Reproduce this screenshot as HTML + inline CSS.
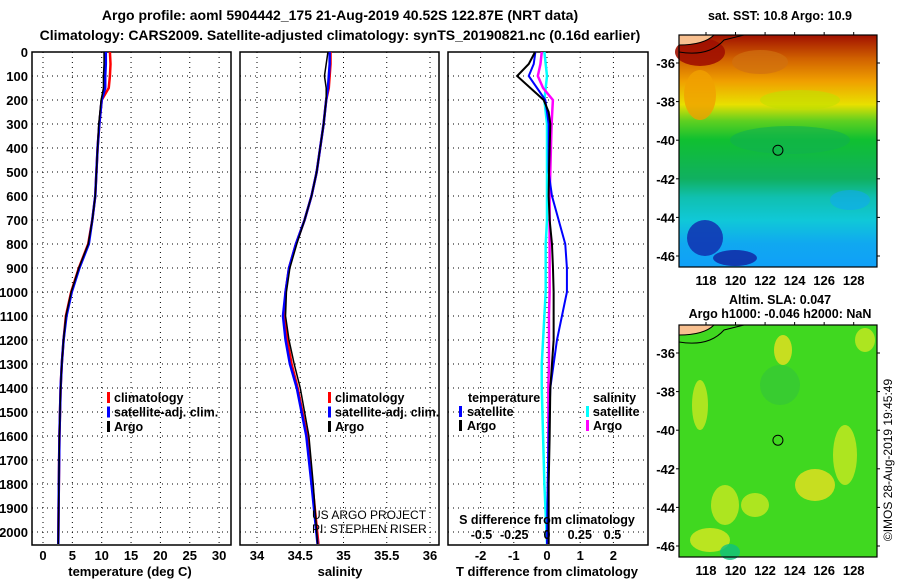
<!DOCTYPE html>
<html><head><meta charset="utf-8"><style>
body{margin:0;background:#fff}
svg{display:block;font-family:"Liberation Sans",sans-serif;font-weight:bold}
</style></head><body>
<svg id="c" width="900" height="580" viewBox="0 0 900 580">
<defs>
<linearGradient id="sst" x1="0" y1="0" x2="0" y2="1">
<stop offset="0" stop-color="#a01000"/><stop offset="0.1" stop-color="#d06000"/>
<stop offset="0.2" stop-color="#f0a000"/><stop offset="0.3" stop-color="#e8e000"/>
<stop offset="0.37" stop-color="#60d020"/><stop offset="0.45" stop-color="#10c030"/>
<stop offset="0.62" stop-color="#10b060"/><stop offset="0.7" stop-color="#10c0b0"/>
<stop offset="0.8" stop-color="#10c8d8"/><stop offset="0.9" stop-color="#10a8f0"/>
<stop offset="1" stop-color="#10a0f8"/>
</linearGradient>
</defs>
<text x="340" y="20" font-size="14" text-anchor="middle">Argo profile: aoml 5904442_175 21-Aug-2019 40.52S 122.87E (NRT data)</text>
<text x="340" y="40" font-size="14" text-anchor="middle">Climatology: CARS2009. Satellite-adjusted climatology: synTS_20190821.nc (0.16d earlier)</text>
<g id="g"></g>
</svg>
<script>
// ---- data ----
const depthT = [0,50,100,150,200,300,400,500,600,700,800,900,1000,1100,1200,1300,1400,1600,1800,2050];
const tempClim = [11.4,11.5,11.4,11.2,10.0,9.6,9.3,9.1,8.9,8.4,7.7,6.1,4.8,3.9,3.5,3.2,3.0,2.8,2.7,2.6];
const tempSat  = [10.7,10.7,10.6,10.6,10.0,9.6,9.3,9.1,8.9,8.4,7.8,6.2,4.9,4.0,3.5,3.2,3.0,2.8,2.7,2.6];
const tempArgo = [10.4,10.4,10.3,10.3,9.9,9.5,9.3,9.1,8.9,8.4,7.7,6.1,4.8,3.9,3.5,3.2,3.0,2.8,2.7,2.6];
const salClim = [34.85,34.85,34.84,34.83,34.8,34.77,34.73,34.69,34.63,34.55,34.45,34.37,34.33,34.32,34.35,34.4,34.47,34.58,34.64,34.71];
const salSat  = [34.84,34.84,34.83,34.82,34.8,34.77,34.73,34.69,34.63,34.55,34.45,34.37,34.33,34.3,34.33,34.38,34.46,34.57,34.63,34.7];
const salArgo = [34.82,34.8,34.78,34.8,34.8,34.77,34.73,34.69,34.63,34.55,34.46,34.38,34.34,34.33,34.37,34.43,34.5,34.6,34.65,34.7];
const depthD = [0,50,100,150,200,250,300,400,500,600,700,800,900,1000,1100,1200,1300,1400,1600,1800,2050];
const tDiffArgo = [-0.36,-0.55,-0.9,-0.5,-0.1,0.05,0.1,0.08,0.06,0.05,0.08,0.15,0.18,0.2,0.2,0.2,0.15,0.1,0.08,0.05,0.05];
const tDiffSat  = [-0.35,-0.4,-0.55,-0.3,-0.05,0.0,0.05,0.05,0.05,0.15,0.35,0.55,0.6,0.6,0.45,0.3,0.2,0.1,0.05,0.02,0.0];
const sDiffArgo = [-0.04,-0.05,-0.07,-0.03,0.045,0.04,0.035,0.03,0.025,0.02,0.02,0.02,0.02,0.02,0.015,0.015,0.015,0.01,0.01,0.01,0.01];
const sDiffSat  = [-0.02,-0.01,0.0,-0.01,-0.02,-0.01,0.0,0.0,0.0,0.0,0.0,-0.01,-0.01,-0.01,-0.02,-0.03,-0.04,-0.04,-0.03,-0.02,0.0];
const depthTicks = [0,100,200,300,400,500,600,700,800,900,1000,1100,1200,1300,1400,1500,1600,1700,1800,1900,2000];
const tempTicks = [0,5,10,15,20,25,30];
const salTicks = [34,34.5,35,35.5,36];
const tDiffTicks = [-2,-1,0,1,2];
const sDiffTicks = [-0.5,-0.25,0,0.25,0.5];
const lonTicks = [118,120,122,124,126,128];
const latTicks = [-36,-38,-40,-42,-44,-46];
const argoLon = 122.87, argoLat = -40.52;

const NS='http://www.w3.org/2000/svg';
const G=document.getElementById('g');
function mk(tag,at,parent){const e=document.createElementNS(NS,tag);for(const k in at)e.setAttribute(k,at[k]);(parent||G).appendChild(e);return e;}
function txt(x,y,s,size,anchor,parent){const t=mk('text',{x:x,y:y,'font-size':size,'text-anchor':anchor||'middle'},parent);t.textContent=s;return t;}

const PT=52,PB=545;
const yD=d=>PT+d*0.24;
function panel(name,x0,x1,xs,ticks,gridTicks){
  const g=mk('g',{});
  
  
  depthTicks.forEach(d=>{mk('line',{x1:x0,x2:x1,y1:yD(d),y2:yD(d),stroke:'#000','stroke-dasharray':'1 4','stroke-width':1},g);});
  gridTicks.forEach(v=>{mk('line',{x1:xs(v),x2:xs(v),y1:PT,y2:PB,stroke:'#000','stroke-dasharray':'1 4','stroke-width':1},g);});
  mk('rect',{x:x0,y:PT,width:x1-x0,height:PB-PT,fill:'none',stroke:'#000','stroke-width':1.5},g);
  return g;
}
function line(g,xs,vals,depths,color,w,name){
  const p=mk('polyline',{points:vals.map((v,i)=>xs(v)+','+yD(depths[i])).join(' '),fill:'none',stroke:color,'stroke-width':w},g);
  
  
}
// y labels
const yl=mk('g',{});


depthTicks.forEach(d=>txt(28,yD(d)+5,String(d),13,'end',yl));

// temperature
const xT=v=>43+v*5.87;
const g1=panel('temperature-panel',32,231,xT,tempTicks,tempTicks);
line(g1,xT,tempClim,depthT,'#f00',2.5,'temp-climatology-line');
line(g1,xT,tempSat,depthT,'#00f',2.5,'temp-satellite-line');
line(g1,xT,tempArgo,depthT,'#000',1.5,'temp-argo-line');
tempTicks.forEach(v=>txt(xT(v),560,String(v),13,'middle',g1));
txt(130,576,'temperature (deg C)',13,'middle',g1);
function legend(g,x,y,items){items.forEach((it,i)=>{mk('rect',{x:x,y:y+i*14.5-10,width:3,height:11,fill:it[1]},g);txt(x+7,y+i*14.5,it[0],12.5,'start',g);});}
legend(g1,107,402,[['climatology','#f00'],['satellite-adj. clim.','#00f'],['Argo','#000']]);

// salinity
const xS=v=>257+(v-34)*86.5;
const g2=panel('salinity-panel',240,439,xS,salTicks,salTicks);
line(g2,xS,salClim,depthT,'#f00',2.5,'sal-climatology-line');
line(g2,xS,salSat,depthT,'#00f',2.5,'sal-satellite-line');
line(g2,xS,salArgo,depthT,'#000',1.5,'sal-argo-line');
salTicks.forEach(v=>txt(xS(v),560,String(v),13,'middle',g2));
txt(340,576,'salinity',13,'middle',g2);
legend(g2,328,402,[['climatology','#f00'],['satellite-adj. clim.','#00f'],['Argo','#000']]);
const pr=txt(312,519,'US ARGO PROJECT',12,'start',g2);pr.setAttribute('font-weight','normal');
const pi=txt(312,533,'PI: STEPHEN RISER',12,'start',g2);pi.setAttribute('font-weight','normal');

// differences
const xD=v=>547+v*33.2;
const xSD=v=>547+v*131;
const g3=panel('difference-panel',448,648,xD,tDiffTicks,tDiffTicks);
line(g3,xSD,sDiffSat,depthD,'#0ff',2.5,'sdiff-satellite-line');
line(g3,xSD,sDiffArgo,depthD,'#f0f',2.5,'sdiff-argo-line');
line(g3,xD,tDiffSat,depthD,'#00f',2,'tdiff-satellite-line');
line(g3,xD,tDiffArgo,depthD,'#000',2,'tdiff-argo-line');
tDiffTicks.forEach(v=>txt(xD(v),560,String(v),13,'middle',g3));
txt(547,576,'T difference from climatology',13,'middle',g3);
txt(547,524,'S difference from climatology',12.5,'middle',g3);
sDiffTicks.forEach(v=>txt(xSD(v),539,String(v),12.5,'middle',g3));
txt(468,402,'temperature',12.5,'start',g3);
txt(593,402,'salinity',12.5,'start',g3);
mk('rect',{x:459,y:406,width:3,height:11,fill:'#00f'},g3);txt(467,416,'satellite',12.5,'start',g3);
mk('rect',{x:459,y:420,width:3,height:11,fill:'#000'},g3);txt(467,430,'Argo',12.5,'start',g3);
mk('rect',{x:586,y:406,width:3,height:11,fill:'#0ff'},g3);txt(593,416,'satellite',12.5,'start',g3);
mk('rect',{x:586,y:420,width:3,height:11,fill:'#f0f'},g3);txt(593,430,'Argo',12.5,'start',g3);

// maps
const MX0=679,MX1=877;
const xL=v=>706+(v-118)*14.77;
function map(name,y0,y1,latY,fill,blobs,title){
  const g=mk('g',{});
  
  
  mk('rect',{x:MX0,y:y0,width:MX1-MX0,height:y1-y0,fill:fill},g);
  blobs.forEach(b=>mk('ellipse',{cx:b[0],cy:b[1],rx:b[2],ry:b[3],fill:b[4],opacity:b[5]||0.8},g));
  mk('path',{d:`M${MX0} ${y0} H${MX0+35} Q${MX0+25} ${y0+10} ${MX0} ${y0+10}Z`,fill:'#f8c090',stroke:'#000','stroke-width':1},g);
  mk('path',{d:`M${MX0} ${y0+17} Q${MX0+30} ${y0+22} ${MX0+45} ${y0+5} L${MX0+65} ${y0}`,fill:'none',stroke:'#000','stroke-width':1},g);
  mk('circle',{cx:xL(argoLon),cy:latY(argoLat),r:5,fill:'none',stroke:'#000','stroke-width':1},g);
  mk('rect',{x:MX0,y:y0,width:MX1-MX0,height:y1-y0,fill:'none',stroke:'#000','stroke-width':1.2},g);
  latTicks.forEach(v=>{const y=latY(v);txt(675,y+5,String(v),13,'end',g);
    mk('line',{x1:MX0-3,x2:MX0,y1:y,y2:y,stroke:'#000'},g);mk('line',{x1:MX1,x2:MX1+3,y1:y,y2:y,stroke:'#000'},g);});
  lonTicks.forEach(v=>{mk('line',{x1:xL(v),x2:xL(v),y1:y0-3,y2:y0,stroke:'#000'},g);});
  return g;
}
const lat1=v=>63+(-36-v)*19.3;
const m1=map('sst-map',35,267,lat1,'url(#sst)',[
 [700,52,25,14,'#a01000',0.9],[760,62,28,12,'#d07010',0.7],[700,95,16,25,'#f0a000',0.8],
 [790,140,60,14,'#10b050',0.6],[800,100,40,10,'#c0e000',0.6],
 [705,238,18,18,'#1030b0',0.85],[735,258,22,8,'#1020a0',0.8],[850,200,20,10,'#10a8f0',0.6]],'');
lonTicks.forEach(v=>txt(xL(v),285,String(v),13,'middle',m1));
txt(780,20,'sat. SST: 10.8 Argo: 10.9',12.5,'middle',m1);
txt(780,304,'Altim. SLA: 0.047',12.5,'middle',m1);
txt(780,318,'Argo h1000: -0.046 h2000: NaN',12.5,'middle',m1);

const lat2=v=>353+(-36-v)*19.3;
const m2=map('sla-map',325,557,lat2,'#40d820',[
 [783,350,9,15,'#e8e020'],[815,485,20,16,'#e8e020'],[700,405,8,25,'#c8e820'],
 [725,505,14,20,'#c8e820'],[755,505,14,12,'#c8e820'],[845,455,12,30,'#c8e820'],
 [710,540,20,12,'#d8e820'],[865,340,10,12,'#c8e820'],[780,385,20,20,'#30c040',0.5],[730,552,10,8,'#10c080']],'');
lonTicks.forEach(v=>txt(xL(v),575,String(v),13,'middle',m2));
const cr=txt(0,0,'©IMOS 28-Aug-2019 19:45:49',12,'middle',m2);
cr.setAttribute('font-weight','normal');
cr.setAttribute('transform','translate(892,460) rotate(-90)');
</script>
</body></html>
